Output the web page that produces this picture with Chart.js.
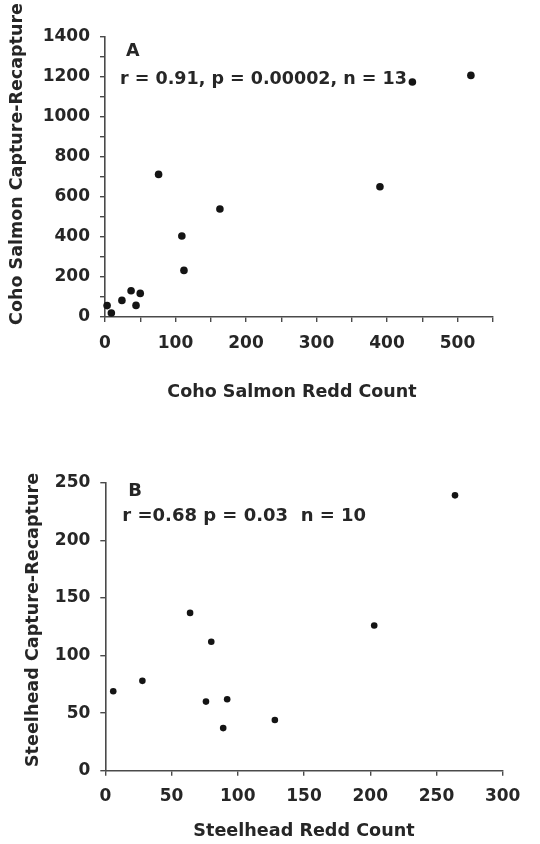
<!DOCTYPE html>
<html>
<head>
<meta charset="utf-8">
<script src="https://cdn.jsdelivr.net/npm/chart.js@4/dist/chart.umd.min.js"></script>
<style>
  html, body { margin: 0; padding: 0; background: #ffffff; }
  #wrap { position: relative; width: 540px; height: 844px; overflow: hidden; }
  canvas { position: absolute; left: 0; top: 0; }
</style>
</head>
<body>
<div id="wrap">
  <canvas id="chartA" width="540" height="844"></canvas>
  <canvas id="chartB" width="540" height="844"></canvas>
</div>
<script>
// ---- Data ----
const cohoRedd = [3, 9, 24, 37, 44, 50, 76, 109, 112, 163, 390, 436, 519];
const cohoCaptureRecapture = [57, 20, 83, 131, 58, 118, 713, 405, 233, 540, 651, 1175, 1208];
const steelheadRedd = [6, 28, 64, 76, 80, 89, 92, 128, 203, 264];
const steelheadCaptureRecapture = [69, 78, 137, 60, 112, 37, 62, 44, 126, 239];

const cohoXTicks = [0, 100, 200, 300, 400, 500];
const cohoYTicks = [0, 200, 400, 600, 800, 1000, 1200, 1400];
const steelXTicks = [0, 50, 100, 150, 200, 250, 300];
const steelYTicks = [0, 50, 100, 150, 200, 250];

const titlesA = { y: 'Coho Salmon Capture-Recapture', x: 'Coho Salmon Redd Count', panel: 'A', stats: 'r = 0.91, p = 0.00002, n = 13' };
const titlesB = { y: 'Steelhead Capture-Recapture', x: 'Steelhead Redd Count', panel: 'B', stats: 'r =0.68 p = 0.03  n = 10' };

// ---- Styling ----
const FONT = '"DejaVu Sans", Verdana, sans-serif';
const TEXT = '#262626';
const AXIS = '#4a4a4a';
const DOT = '#141414';

function toPoints(xs, ys) { return xs.map((x, i) => ({ x: x, y: ys[i] })); }

// Draws axis titles and in-plot annotations (text positioned relative to the chart area)
const textPlugin = {
  id: 'panelText',
  afterDraw(chart, args, opts) {
    const ctx = chart.ctx;
    const ca = chart.chartArea;
    ctx.save();
    ctx.fillStyle = TEXT;
    ctx.textBaseline = 'middle';
    // panel letter and stats
    ctx.textAlign = 'left';
    ctx.font = 'bold ' + opts.statsSize + 'px ' + FONT;
    ctx.fillText(opts.panel, ca.left + opts.panelDx, ca.top + opts.panelDy);
    ctx.fillText(opts.stats, ca.left + opts.statsDx, ca.top + opts.statsDy);
    // x title
    ctx.font = 'bold ' + opts.titleSize + 'px ' + FONT;
    ctx.textAlign = 'center';
    ctx.fillText(opts.xTitle, opts.xTitleX, ca.bottom + opts.xTitleDy);
    // y title
    ctx.translate(opts.yTitleX, opts.yTitleY);
    ctx.rotate(-Math.PI / 2);
    ctx.fillText(opts.yTitle, 0, 0);
    ctx.restore();
  }
};

function axis(min, max, step, labelled, fixedSize, horizontal) {
  return {
    type: 'linear',
    min: min,
    max: max,
    border: { display: true, color: AXIS, width: 1.6 },
    grid: { drawOnChartArea: false, drawTicks: true, tickLength: 5, color: AXIS, lineWidth: 1.4 },
    ticks: {
      stepSize: step,
      autoSkip: false,
      maxRotation: 0,
      minRotation: 0,
      padding: horizontal ? 11 : 10,
      color: TEXT,
      font: { family: FONT, size: 17, weight: 'bold' },
      callback: (v) => labelled.includes(v) ? String(v) : ''
    },
    afterFit: (s) => { if (horizontal) { s.height = fixedSize; } else { s.width = fixedSize; } }
  };
}

function makeChart(id, xs, ys, radius, xAxisCfg, yAxisCfg, padding, textOpts) {
  return new Chart(document.getElementById(id), {
    type: 'scatter',
    data: {
      datasets: [{
        data: toPoints(xs, ys),
        backgroundColor: DOT,
        borderColor: DOT,
        borderWidth: 0,
        pointRadius: radius,
        pointHoverRadius: radius,
        clip: false
      }]
    },
    options: {
      responsive: false,
      animation: false,
      devicePixelRatio: 1,
      layout: { padding: padding },
      plugins: {
        legend: { display: false },
        tooltip: { enabled: false },
        panelText: textOpts
      },
      scales: { x: xAxisCfg, y: yAxisCfg }
    },
    plugins: [textPlugin]
  });
}

// Panel A: chart area left 105, right 492.75, top 37, bottom 317
makeChart('chartA', cohoRedd, cohoCaptureRecapture, 3.8,
  axis(0, 550, 50, cohoXTicks, 844 - 317, true),
  axis(0, 1400, 100, cohoYTicks, 105, false),
  { top: 37, right: 540 - 492.75, left: 0, bottom: 0 },
  { panel: titlesA.panel, stats: titlesA.stats, xTitle: titlesA.x, yTitle: titlesA.y,
    statsSize: 17.5, titleSize: 17.5,
    panelDx: 21, panelDy: 14, statsDx: 15, statsDy: 42,
    xTitleX: 292, xTitleDy: 75, yTitleX: 17, yTitleY: 164 });

// Panel B: chart area left 105.3, right 502.7, top 482.7, bottom 770.7
makeChart('chartB', steelheadRedd, steelheadCaptureRecapture, 3.3,
  axis(0, 300, 50, steelXTicks, 844 - 770.7, true),
  axis(0, 250, 50, steelYTicks, 105.3, false),
  { top: 482.7, right: 540 - 502.7, left: 0, bottom: 0 },
  { panel: titlesB.panel, stats: titlesB.stats, xTitle: titlesB.x, yTitle: titlesB.y,
    statsSize: 18, titleSize: 17.6,
    panelDx: 23, panelDy: 9, statsDx: 17, statsDy: 34,
    xTitleX: 304, xTitleDy: 61, yTitleX: 33, yTitleY: 620 });
</script>
</body>
</html>
